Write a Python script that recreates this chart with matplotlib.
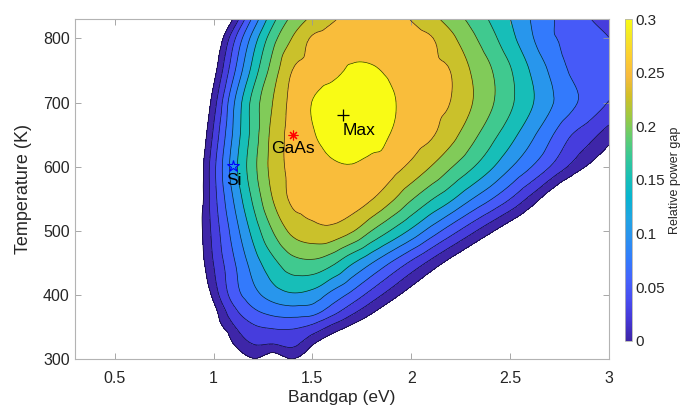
import numpy as np
import matplotlib.pyplot as plt
import matplotlib.tri as mtri
from matplotlib.colors import LinearSegmentedColormap, Normalize
from matplotlib.cm import ScalarMappable

plt.rcParams['font.family'] = ['Liberation Sans', 'DejaVu Sans']

# grid (relative power gap, in percent)
bandgap = [0.9, 1.0, 1.1, 1.2, 1.3, 1.4, 1.5, 1.6, 1.7, 1.8, 1.9, 2.0,
           2.1, 2.2, 2.3, 2.4, 2.5, 2.6, 2.7, 2.8, 2.9, 3.0]
temperature = [300, 325, 350, 375, 400, 450, 500, 550, 600, 650, 700, 750, 800, 830]
gap_pct = [
    [-15.0, -8.75, -3.75, -0.25, -2.25, -0.12, -2.5, -5.5, -8.5, -11.5, -14.5, -17.5, -20.5, -23.5, -26.5, -29.5, -32.5, -35.5, -38.5, -41.5, -44.5, -47.5],
    [-12.5, -6.25, 0.05, 2.62, 2.62, 3.25, 0.38, -2.5, -5.25, -8.0, -10.75, -13.5, -16.25, -19.0, -21.75, -24.5, -27.25, -30.0, -32.75, -35.5, -38.25, -41.0],
    [-8.75, -2.5, 2.1, 4.55, 5.25, 5.3, 4.25, 1.75, -0.75, -3.25, -5.75, -8.25, -10.75, -13.25, -15.75, -18.25, -20.75, -23.25, -25.75, -28.25, -30.75, -33.25],
    [-10.0, -1.25, 4.18, 7.0, 8.38, 8.88, 8.62, 6.12, 3.32, 0.55, -2.25, -5.0, -7.75, -10.5, -13.25, -16.0, -18.75, -21.5, -24.25, -27.0, -29.75, -32.5],
    [-7.5, 0.82, 6.08, 9.0, 11.12, 12.12, 11.5, 9.1, 6.68, 3.88, 1.1, -1.68, -4.5, -7.25, -10.0, -12.75, -15.5, -18.25, -21.0, -23.75, -26.5, -29.25],
    [-3.25, 2.55, 7.08, 11.08, 14.25, 16.5, 16.88, 15.5, 12.75, 10.05, 7.25, 4.45, 1.68, -1.12, -3.88, -6.75, -9.5, -12.25, -15.0, -17.75, -20.5, -23.25],
    [-2.68, 3.32, 8.5, 13.32, 17.55, 20.62, 21.62, 21.75, 20.25, 17.45, 14.75, 12.0, 9.0, 6.12, 3.32, 0.55, -2.25, -5.0, -7.75, -10.5, -13.25, -16.0],
    [-3.88, 3.92, 10.05, 15.42, 20.05, 23.0, 23.62, 24.0, 23.75, 22.62, 20.45, 17.75, 15.25, 12.95, 10.25, 7.75, 5.05, 1.88, -1.75, -5.25, -8.75, -12.5],
    [-4.18, 4.18, 11.25, 16.6, 20.9, 23.25, 24.12, 24.75, 24.88, 24.25, 23.5, 21.92, 19.95, 17.72, 15.45, 13.0, 10.28, 7.75, 5.05, 2.22, -0.5, -3.25],
    [-5.5, 2.92, 10.32, 16.0, 20.75, 23.4, 24.82, 25.75, 26.5, 26.0, 24.9, 23.85, 22.82, 20.9, 18.5, 16.0, 13.5, 10.82, 8.05, 5.28, 3.5, 1.25],
    [-7.0, 1.25, 9.58, 15.9, 20.05, 23.32, 25.05, 26.12, 27.0, 26.5, 25.25, 24.28, 23.4, 22.45, 20.25, 17.95, 15.5, 13.0, 10.5, 8.32, 6.5, 4.88],
    [-9.5, -1.25, 6.78, 13.44, 18.62, 22.55, 23.62, 24.38, 25.3, 25.25, 24.62, 24.12, 23.25, 22.45, 19.95, 17.75, 15.25, 12.45, 9.75, 7.38, 6.75, 6.0],
    [-12.25, -4.0, 4.22, 11.02, 16.5, 20.15, 22.8, 23.62, 24.0, 24.12, 23.75, 23.62, 22.7, 20.62, 18.25, 15.9, 13.32, 10.55, 8.0, 7.0, 6.0, 5.05],
    [-16.5, -8.0, 0.25, 8.12, 14.18, 18.25, 20.5, 22.18, 23.25, 24.0, 23.5, 22.38, 20.75, 19.0, 16.88, 14.75, 12.55, 10.05, 7.92, 6.45, 5.12, 4.0],
]
levels_pct = [0, 2.5, 5, 7.5, 10, 12.5, 15, 17.5, 20, 22.5, 25, 100]
band_pos = [0, 0.083, 0.167, 0.25, 0.333, 0.5, 0.583, 0.667, 0.75, 0.833, 1.0]

materials = ['Si', 'GaAs']
mat_bandgap = [1.10, 1.40]
mat_temp = [601, 650]
max_bandgap, max_temp = 1.653, 680

# MATLAB parula, every 4th entry of the 64 colour table
parula_rgb = [
    (0.2422, 0.1504, 0.6603), (0.2706, 0.2147, 0.8364), (0.2813, 0.3006, 0.9414),
    (0.2699, 0.3892, 0.9906), (0.1963, 0.4847, 0.9892), (0.1687, 0.5703, 0.9359),
    (0.1248, 0.6459, 0.8883), (0.0297, 0.7082, 0.8163), (0.0964, 0.7500, 0.7120),
    (0.2161, 0.7843, 0.5923), (0.3909, 0.8029, 0.4354), (0.6174, 0.7876, 0.2612),
    (0.8203, 0.7498, 0.1535), (0.9728, 0.7298, 0.2394), (0.9892, 0.8136, 0.1885),
    (0.9597, 0.9135, 0.1423), (0.9769, 0.9839, 0.0805),
]
parula_pos = [0, 4, 8, 12, 16, 20, 24, 28, 32, 36, 40, 44, 48, 52, 56, 60, 63]
parula = LinearSegmentedColormap.from_list(
    'parula', [(p / 63, c) for p, c in zip(parula_pos, parula_rgb)])

# smooth the coarse grid with matplotlib's triangulation refiner
BG, TT = np.meshgrid(bandgap, temperature)
sx, sy = 1.975, 0.00643  # eV and K to roughly equal screen units
tri = mtri.Triangulation(BG.ravel() * sx, TT.ravel() * sy)
z = np.array(gap_pct).ravel() / 100
interp = mtri.CubicTriInterpolator(tri, z, kind='geom')
tri_r, z_r = mtri.UniformTriRefiner(tri).refine_field(z, interp, subdiv=3)
tri_r = mtri.Triangulation(tri_r.x / sx, tri_r.y / sy, tri_r.triangles)
levels = np.array(levels_pct) / 100

fig = plt.figure(figsize=(6.84, 4.15), dpi=100)
ax = fig.add_axes([0.110, 0.134, 0.780, 0.820])

band_colors = [parula(p) for p in band_pos]
ax.tricontourf(tri_r, z_r, levels=levels, colors=band_colors)
ax.tricontour(tri_r, z_r, levels=levels[:-1], colors='k', linewidths=0.5, alpha=0.8)

ax.plot(mat_bandgap[0], mat_temp[0], marker='*', ms=9, mfc='none', mec='b', mew=0.8, ls='none')
ax.plot(mat_bandgap[1], mat_temp[1], marker=(8, 2, 0), ms=7, mec='r', mew=0.8, ls='none')
ax.plot(max_bandgap, max_temp, marker='+', ms=8, mec='k', mew=0.9, ls='none')
ax.text(1.062, 579, materials[0], fontsize=12.5, ha='left', va='center')
ax.text(1.293, 629, materials[1], fontsize=12.5, ha='left', va='center')
ax.text(1.652, 657, 'Max', fontsize=12.5, ha='left', va='center')

ax.set_xlim(0.3, 3.0)
ax.set_ylim(300, 830)
ax.set_xticks([0.5, 1, 1.5, 2, 2.5, 3])
ax.set_xticklabels(['0.5', '1', '1.5', '2', '2.5', '3'])
ax.set_yticks([300, 400, 500, 600, 700, 800])
ax.tick_params(direction='in', top=True, right=True, length=4, width=0.6,
               color='0.6', labelsize=11.5, labelcolor='0.15')
ax.tick_params(axis='x', pad=8)
ax.tick_params(axis='y', pad=4)
for s in ax.spines.values():
    s.set_color('0.7')
    s.set_linewidth(0.8)
ax.set_xlabel('Bandgap (eV)', fontsize=12.5, color='0.15', labelpad=3)
ax.set_ylabel('Temperature (K)', fontsize=13, color='0.15', labelpad=8)

cax = fig.add_axes([0.914, 0.179, 0.0105, 0.775])
sm = ScalarMappable(norm=Normalize(0, 0.3), cmap=parula)
cb = fig.colorbar(sm, cax=cax, ticks=[0, 0.05, 0.1, 0.15, 0.2, 0.25, 0.3])
cb.ax.set_yticklabels(['0', '0.05', '0.1', '0.15', '0.2', '0.25', '0.3'])
cb.ax.tick_params(length=0, labelsize=11, labelcolor='0.15', pad=2)
cb.outline.set_edgecolor('0.7')
cb.outline.set_linewidth(0.6)
cb.set_label('Relative power gap', fontsize=9, color='0.15', labelpad=3)

fig.savefig('out.png', dpi=100)
